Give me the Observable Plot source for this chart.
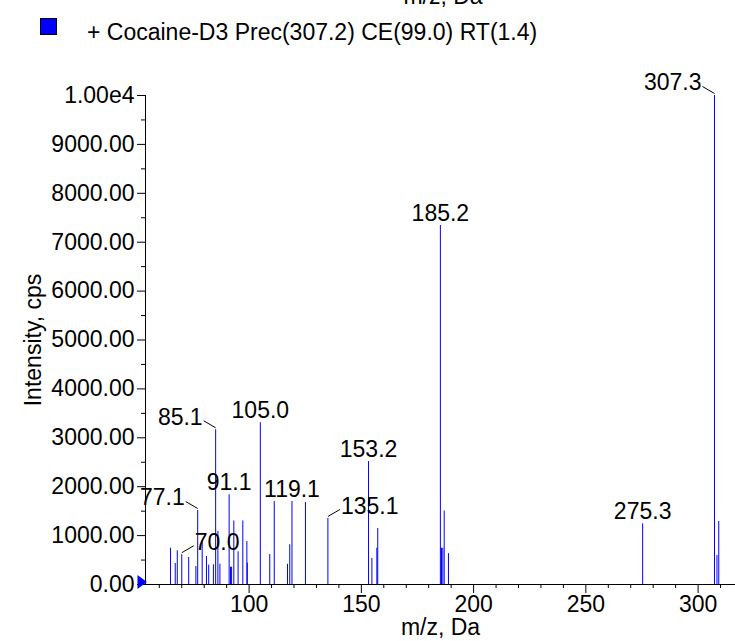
<!DOCTYPE html>
<html><head><meta charset="utf-8">
<script src="https://cdn.jsdelivr.net/npm/d3@7"></script>
<script src="https://cdn.jsdelivr.net/npm/@observablehq/plot@0.6"></script>
<style>
body{margin:0;background:#fff;}
#wrap{position:relative;width:735px;height:641px;overflow:hidden;font-family:"Liberation Sans",Arial,sans-serif;}
#legend{display:block;}
#chart svg{display:block;}
</style></head><body>
<div id="wrap">
<svg id="legend" width="735" height="60" font-family="Liberation Sans, Arial, sans-serif" font-size="23">
  <text x="443" y="4" text-anchor="middle" fill="#000">m/z, Da</text>
  <rect x="40.5" y="18.5" width="16" height="16" fill="#0000ff" stroke="#000" stroke-width="1"></rect>
  <text x="87" y="40" fill="#000">+ Cocaine-D3 Prec(307.2) CE(99.0) RT(1.4)</text>
</svg>
<div id="chart"></div>
</div>
<script>
// ---- data ----
const mz = [65.0, 67.1, 68.0, 70.0, 73.1, 76.3, 77.1, 79.1, 81.0, 82.0, 84.1, 85.1, 86.1, 87.0,
            91.1, 91.7, 92.2, 93.2, 95.1, 97.2, 99.0, 99.2, 105.0, 109.2, 111.2, 117.1, 118.1, 119.1,
            125.1, 135.1, 153.2, 154.7, 156.9, 157.3, 185.2, 185.7, 186.3, 186.9, 188.8, 275.3,
            307.3, 308.4, 309.2];
const intensity = [742, 430, 689, 609, 552, 368, 1513, 900, 573, 395, 403, 3164, 1084, 415,
            1836, 354, 354, 1299, 669, 1299, 879, 436, 3307, 613, 1697, 413, 812, 1697,
            1677, 1350, 2515, 532, 742, 1145, 7342, 742, 742, 1503, 630, 1241,
            10000, 593, 1288];
const labeledMz = [70.0, 77.1, 85.1, 91.1, 105.0, 119.1, 135.1, 153.2, 185.2, 275.3, 307.3];
const labelText = ["70.0", "77.1", "85.1", "91.1", "105.0", "119.1", "135.1", "153.2", "185.2", "275.3", "307.3"];
const yMajorTicks = [0, 1000, 2000, 3000, 4000, 5000, 6000, 7000, 8000, 9000, 10000];
const xMajorTicks = [100, 150, 200, 250, 300];
const xTitle = "m/z, Da";
const yTitle = "Intensity, cps";

// ---- layout ----
const W = 735, H = 581, mL = 145, mR = 0, mT = 35, mB = 57;
const xDomain = [53.85, 316.66], yDomain = [0, 10000];
const kx = (W - mL - mR) / (xDomain[1] - xDomain[0]);
const ky = (H - mT - mB) / (yDomain[1] - yDomain[0]);
// label side: -1 = label left of peak with leader, 1 = right with leader, 0 = centred above
const labelSide = {"70.0": 1, "77.1": -1, "85.1": -1, "135.1": 1, "307.3": -1};

const peaks = mz.map((m, i) => ({mz: m, intensity: intensity[i]}));
const labels = labeledMz.map((m, i) => {
  const p = peaks.find(d => d.mz === m);
  return {mz: m, intensity: p.intensity, text: labelText[i], side: labelSide[labelText[i]] || 0};
});
const centred = labels.filter(d => d.side === 0);
const leftL = labels.filter(d => d.side === -1);
const rightL = labels.filter(d => d.side === 1);
const leaders = labels.filter(d => d.side !== 0).map(d => ({
  x1: d.mz + d.side * 12 / kx, y1: d.intensity + 9 / ky,
  x2: d.mz, y2: d.intensity + 2 / ky
}));
const xMinor = d3.range(60, 311, 10).filter(v => v % 50 !== 0);
const yMinor = d3.range(500, 10000, 1000);
const fmtY = v => v === 10000 ? "1.00e4" : v.toFixed(2);

const triangle = {
  draw(ctx) { ctx.moveTo(-4.7, -7); ctx.lineTo(4.7, 0); ctx.lineTo(-4.7, 7); ctx.closePath(); }
};

const font = "Liberation Sans, Arial, sans-serif";
const FS = 23;
const chart = Plot.plot({
  width: W, height: H,
  marginLeft: mL, marginRight: mR, marginTop: mT, marginBottom: mB,
  style: {fontFamily: font, fontSize: FS + "px", color: "#000", background: "#fff", overflow: "visible"},
  x: {domain: xDomain},
  y: {domain: yDomain},
  marks: [
    Plot.axisY({ticks: yMajorTicks, tickSize: 8, tickPadding: 3, tickFormat: fmtY, label: null, fontSize: FS}),
    Plot.axisY({ticks: yMinor, tickSize: 4, tickFormat: () => "", label: null}),
    Plot.axisX({ticks: xMajorTicks, tickSize: 9, tickPadding: 2, tickFormat: d => String(d), label: null, fontSize: FS}),
    Plot.axisX({ticks: xMinor, tickSize: 4, tickFormat: () => "", label: null}),
    Plot.ruleX(peaks, {x: "mz", y1: 0, y2: "intensity", stroke: "#0000ff", strokeWidth: 1}),
    Plot.ruleY([0], {stroke: "#000"}),
    Plot.ruleX([xDomain[0]], {stroke: "#000"}),
    Plot.link(leaders, {x1: "x1", y1: "y1", x2: "x2", y2: "y2", stroke: "#000", strokeWidth: 1}),
    Plot.text(centred, {x: "mz", y: "intensity", text: "text", dy: -12, textAnchor: "middle", lineAnchor: "middle", fill: "#000", fontSize: FS}),
    Plot.text(leftL, {x: "mz", y: "intensity", text: "text", dx: -13, dy: -12.5, textAnchor: "end", lineAnchor: "middle", fill: "#000", fontSize: FS}),
    Plot.text(rightL, {x: "mz", y: "intensity", text: "text", dx: 13, dy: -12, textAnchor: "start", lineAnchor: "middle", fill: "#000", fontSize: FS}),
    Plot.dot([0], {x: () => xDomain[0], y: () => 0, symbol: triangle, r: 5, fill: "#0000ff", stroke: null, dx: -3.3, dy: -2.5}),
    Plot.text([yTitle], {frameAnchor: "left", text: d => d, rotate: -90, dx: -112, textAnchor: "middle", lineAnchor: "middle", fontSize: FS, fill: "#000"}),
    Plot.text([xTitle], {frameAnchor: "bottom", text: d => d, dy: 43, textAnchor: "middle", lineAnchor: "middle", fontSize: FS, fill: "#000"})
  ]
});
document.getElementById("chart").appendChild(chart);
</script>
</body></html>
